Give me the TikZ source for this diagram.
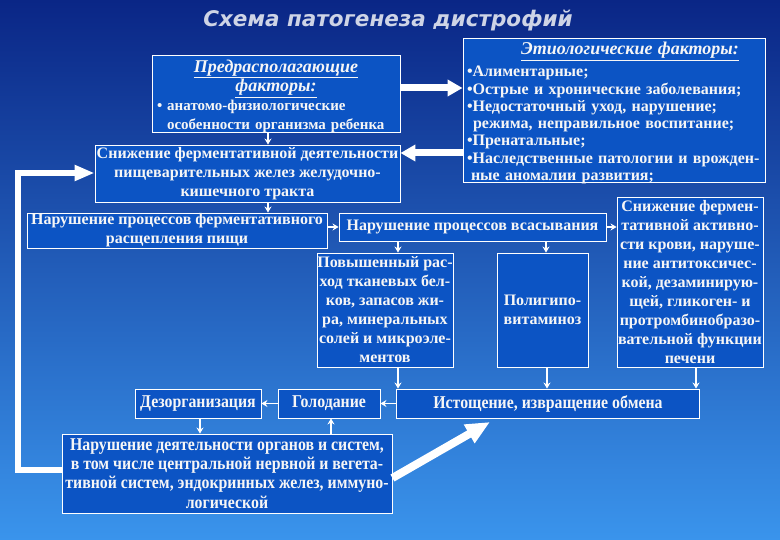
\documentclass[tikz,border=0pt]{standalone}
\usepackage{fontspec}
\setmainfont{Liberation Serif}
\newfontfamily\titlefont{DejaVu Sans}
\newfontfamily\condfont[FakeStretch=0.88]{Liberation Serif}
\usetikzlibrary{arrows.meta}

\definecolor{bgtop}{RGB}{10,38,134}
\definecolor{bgmid}{RGB}{28,90,194}
\definecolor{bgbot}{RGB}{58,148,236}
\definecolor{boxfill}{RGB}{12,84,196}
\definecolor{txt}{RGB}{246,246,246}
\definecolor{titlecol}{RGB}{206,212,230}

\newcommand{\headtxt}[1]{{\fontsize{18}{19}\selectfont\bfseries\itshape\underline{#1}}}

\tikzset{
  box/.style={draw=white, line width=0.9pt, fill=boxfill, text=txt, inner sep=0pt,
    align=center, font=\bfseries\fontsize{16}{19}\selectfont},
  textonly/.style={text=txt, inner sep=0pt, align=left},
  condbox/.style={box, font=\condfont\bfseries\fontsize{18}{19}\selectfont},
  titlest/.style={text=titlecol, font=\titlefont\bfseries\itshape\fontsize{21.5}{24}\selectfont},
  arr/.style={draw=white, line width=1.8pt, -{Stealth[length=6pt,width=7pt]}},
  bigarr/.style={draw=white, line width=7pt, -{Triangle[length=15pt,width=16pt]}},
  loopline/.style={draw=white, line width=6pt, -{Triangle[length=20pt,width=15pt]}},
  diagarr/.style={draw=white, line width=8pt, -{Triangle[length=24pt,width=20pt]}},
}

\begin{document}
\begin{tikzpicture}[x=1pt,y=-1pt]
\shade[top color=bgtop, middle color=bgmid, bottom color=bgbot] (0,0) rectangle (780,540);
\useasboundingbox (0,0) rectangle (780,540);

\node[titlest] (title) at (388,21) {Схема патогенеза дистрофий};

\node[box, minimum width=248pt, minimum height=77pt] (B1) at (276,93.5) {};
\node[textonly, font=\bfseries\fontsize{15}{19.2}\selectfont, text width=242pt, yshift=-3pt] (B1t) at (B1.center)
 {\makebox[\linewidth]{\headtxt{Предрасполагающие}}\\
  \makebox[\linewidth]{\headtxt{факторы:}}\\
  \hspace*{2pt}• анатомо-физиологические\\
  \hspace*{12pt}особенности организма ребенка};

\node[box, minimum width=305pt, minimum height=57pt] (B2) at (247.5,173.5)
 {Снижение ферментативной деятельности\\ пищеварительных желез желудочно-\\ кишечного тракта};

\node[box, minimum width=300pt, minimum height=35pt] (B3) at (177,230.5)
 {Нарушение процессов ферментативного\\ расщепления пищи};

\node[box, minimum width=267pt, minimum height=28pt] (B4) at (472.5,227)
 {Нарушение процессов всасывания};

\node[box, minimum width=136pt, minimum height=114pt] (B5) at (385,310)
 {Повышенный рас-\\ ход тканевых бел-\\ ков, запасов жи-\\ ра, минеральных\\ солей и микроэле-\\ ментов};

\node[box, minimum width=91pt, minimum height=114pt] (B6) at (542.5,310)
 {Полигипо-\\ витаминоз};

\node[box, minimum width=146pt, minimum height=170pt] (B7) at (690,282)
 {Снижение фермен-\\ тативной активно-\\ сти крови, наруше-\\ ние антитоксичес-\\ кой, дезаминирую-\\ щей, гликоген- и\\ протромбинобразо-\\ вательной функции\\ печени};

\node[box, minimum width=302pt, minimum height=144pt] (B8) at (614,110) {};
\node[textonly, font=\bfseries\fontsize{16}{17.3}\selectfont, text width=294pt, yshift=-3pt] (B8t) at (B8.center)
 {\makebox[\linewidth]{\hspace*{32pt}\headtxt{Этиологические факторы:}}\\[5pt]
  •Алиментарные;\\
  •Острые и хронические заболевания;\\
  •Недостаточный уход, нарушение;\\
  \hspace*{6pt}режима, неправильное воспитание;\\
  •Пренатальные;\\
  •Наследственные патологии и врожден-\\
  \hspace*{4pt}ные аномалии развития;};

\node[condbox, minimum width=126pt, minimum height=29pt] (B9) at (198,403.5) {Дезорганизация};
\node[condbox, minimum width=102pt, minimum height=29pt] (B10) at (329,403.5) {Голодание};
\node[condbox, minimum width=303pt, minimum height=29pt] (B11) at (548,403.5) {Истощение, извращение обмена};

\node[condbox, font=\condfont\bfseries\fontsize{18}{19.3}\selectfont, minimum width=330pt, minimum height=79pt] (B12) at (227,473.5)
 {Нарушение деятельности органов и систем,\\ в том числе центральной нервной и вегета-\\ тивной систем, эндокринных желез, иммуно-\\ логической};

% helper coordinates
\coordinate (X268) at (268,0);
\coordinate (X398) at (398,0);
\coordinate (X546) at (546,0);
\coordinate (X547) at (547,0);
\coordinate (X696) at (696,0);
\coordinate (X200) at (200,0);
\coordinate (X331) at (331,0);
\coordinate (Y88) at (0,88);
\coordinate (Y153) at (0,153);
\coordinate (L1) at (18,470);
\coordinate (L2) at (18,173);
\coordinate (D0) at (0,478);
\coordinate (D1) at (490,422);

% small arrows
\draw[arr] (B1.south -| X268) -- (B2.north -| X268);
\draw[arr] (B2.south -| X268) -- (B3.north -| X268);
\draw[arr] (B3.east |- B4.west) -- (B4.west);
\draw[arr] (B4.east) -- (B7.west |- B4.east);
\draw[arr] (B4.south -| X398) -- (B5.north -| X398);
\draw[arr] (B4.south -| X546) -- (B6.north -| X546);
\draw[arr] (B5.south -| X398) -- (B11.north -| X398);
\draw[arr] (B6.south -| X547) -- (B11.north -| X547);
\draw[arr] (B7.south -| X696) -- (B11.north -| X696);
\draw[arr] (B11.west) -- (B10.east);
\draw[arr] (B10.west) -- (B9.east);
\draw[arr] (B9.south -| X200) -- (B12.north -| X200);
\draw[arr] (B12.north -| X331) -- (B10.south -| X331);

% big arrows
\draw[bigarr] (B1.east |- Y88) -- (B8.west |- Y88);
\draw[bigarr] (B8.west |- Y153) -- (B2.east |- Y153);
\draw[loopline] (B12.west |- L1) -- (L1) -- (L2) -- (B2.west |- L2);
\draw[diagarr] (B12.east |- D0) -- (D1);
\end{tikzpicture}
\end{document}
